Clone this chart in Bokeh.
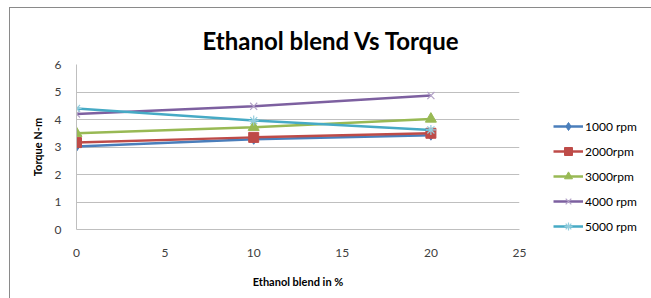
from bokeh.plotting import figure
from bokeh.models import Legend, LegendItem, Range1d, Title, FixedTicker
from bokeh.embed import file_html
from bokeh.resources import INLINE

blend = [0, 10, 20]
series_names = ["1000 rpm", "2000rpm", "3000rpm", "4000 rpm", "5000 rpm"]
torque_1000 = [3.02, 3.28, 3.43]
torque_2000 = [3.16, 3.35, 3.50]
torque_3000 = [3.50, 3.72, 4.02]
torque_4000 = [4.20, 4.48, 4.87]
torque_5000 = [4.40, 3.96, 3.62]
x_ticks = [0, 5, 10, 15, 20, 25]
y_ticks = [0, 1, 2, 3, 4, 5, 6]

colors = ["#4A7EBB", "#BE4B48", "#98B954", "#7D60A0", "#46AAC5"]
markers = ["diamond", "square", "triangle", "x", "asterisk"]
msizes = [10, 10, 11, 10, 10]
series = [torque_1000, torque_2000, torque_3000, torque_4000, torque_5000]

FONT = "Lato"

p = figure(frame_width=443, frame_height=165, output_backend="svg", toolbar_location=None,
           x_range=Range1d(0, 25), y_range=Range1d(0, 6),
           min_border_left=76, min_border_right=132, min_border_top=64, min_border_bottom=69)
p.border_fill_color = None
p.styles = {"background": "linear-gradient(#8a8a8a,#8a8a8a) 9px 7px / 1px 100% no-repeat, "
                          "linear-gradient(#8a8a8a,#8a8a8a) 9px 7px / 100% 1px no-repeat, white"}
p.outline_line_color = None
p.background_fill_color = "white"

p.title = Title(text="Ethanol blend Vs Torque", text_font=FONT, text_font_size="24px",
                text_font_style="bold", align="left", offset=126, text_color="#000000",
                standoff=20)

p.xaxis.ticker = FixedTicker(ticks=x_ticks)
p.yaxis.ticker = FixedTicker(ticks=y_ticks)
for ax in (p.xaxis[0], p.yaxis[0]):
    ax.axis_line_color = "#BFBFBF"
    ax.major_tick_line_color = None
    ax.minor_tick_line_color = None
    ax.major_label_text_font = FONT
    ax.major_label_text_font_size = "12px"
    ax.major_label_text_color = "#404040"
    ax.axis_label_text_font = FONT
    ax.axis_label_text_font_size = "11px"
    ax.axis_label_text_font_style = "bold"
    ax.axis_label_text_color = "#000000"
p.xaxis.axis_label = "Ethanol blend in %"
p.yaxis.axis_label = "Torque N-m"
p.xaxis.major_label_standoff = 13
p.yaxis.major_label_standoff = 9
p.xaxis.axis_label_standoff = 15
p.yaxis.axis_label_standoff = 8

p.xgrid.grid_line_color = None
p.ygrid.grid_line_color = "#BFBFBF"
p.ygrid.grid_line_width = 1

items = []
for name, vals, c, m, s in zip(series_names, series, colors, markers, msizes):
    ln = p.line(blend, vals, line_color=c, line_width=2.5)
    if m in ("x", "asterisk"):
        sc = p.scatter(blend, vals, marker=m, size=s, line_color="#B3A2C7" if m == "x" else "#93CDDD",
                       line_width=1.2)
    else:
        sc = p.scatter(blend, vals, marker=m, size=s, fill_color=c, line_color=c)
    items.append(LegendItem(label=name, renderers=[ln, sc]))

legend = Legend(items=items, location=(34, -7), orientation="vertical",
                label_text_font=FONT, label_text_font_size="12px", label_text_color="#000000",
                glyph_width=30, glyph_height=20, label_height=20, spacing=5,
                label_standoff=2, padding=0, margin=0,
                border_line_color=None, background_fill_alpha=0)
p.add_layout(legend, "right")

open("out.html", "w").write(file_html(p, INLINE))
